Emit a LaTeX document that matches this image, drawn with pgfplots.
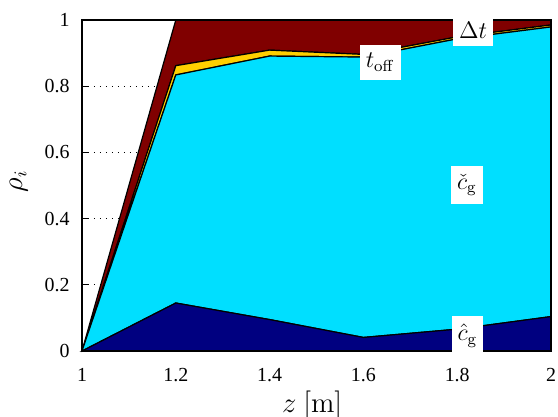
\documentclass[border=0pt]{standalone}
\usepackage[no-math]{fontspec}
\setmainfont{Liberation Serif}
\usepackage{pgfplots}
\pgfplotsset{compat=1.18}
\definecolor{cgHat}{RGB}{0,0,128}
\definecolor{cgCheck}{RGB}{0,223,255}
\definecolor{toff}{RGB}{255,207,0}
\definecolor{dtred}{RGB}{128,0,0}
\begin{document}
\begin{tikzpicture}
\begin{axis}[
  scale only axis, width=234.5bp, height=165.5bp,
  xmin=1, xmax=2, ymin=0, ymax=1,
  xtick={1,1.2,1.4,1.6,1.8,2}, ytick={0,0.2,0.4,0.6,0.8,1},
  stack plots=y, clip=false,
  axis line style={line width=0.6pt},
  ymajorgrids, grid style={black, dash pattern=on 0.4pt off 2.6pt, line width=0.4pt},
  tick style={black, line width=0.4pt}, major tick length=3bp,
  /pgf/number format/assume math mode=true,
  ticklabel style={font=\fontsize{10}{12}\selectfont},
  yticklabel style={xshift=-2.7bp},
  xticklabel style={yshift=-5bp},
  xlabel={$z~[\mathrm{m}]$}, ylabel={$\rho_i$},
  label style={font=\fontsize{13.5}{16}\selectfont},
  xlabel style={at={(axis description cs:0.491,-0.163)}, anchor=center},
  ylabel style={at={(axis description cs:-0.135,0.512)}, anchor=center},
  every axis plot/.append style={draw=black, line width=0.6pt},
]
\addplot[fill=cgHat] coordinates {(1,0) (1.2,0.145) (1.4,0.095) (1.6,0.041) (1.8,0.066) (2,0.104)} \closedcycle;
\addplot[fill=cgCheck] coordinates {(1,0) (1.2,0.689) (1.4,0.796) (1.6,0.847) (1.8,0.877) (2,0.875)} \closedcycle;
\addplot[fill=toff] coordinates {(1,0) (1.2,0.028) (1.4,0.018) (1.6,0.008) (1.8,0.006) (2,0.006)} \closedcycle;
\addplot[fill=dtred] coordinates {(1,0) (1.2,0.138) (1.4,0.091) (1.6,0.104) (1.8,0.051) (2,0.015)} \closedcycle;
\coordinate (sw) at (rel axis cs:0,0);
\coordinate (ne) at (rel axis cs:1,1);
\coordinate (Ldt) at (axis cs:1.834,0.970);
\coordinate (Ltoff) at (axis cs:1.636,0.872);
\coordinate (Lcc) at (axis cs:1.821,0.501);
\coordinate (Lch) at (axis cs:1.822,0.046);
\end{axis}
\draw[line width=0.6pt] (sw) rectangle (ne);
\begin{scope}[every node/.style={fill=white, inner xsep=3bp, inner ysep=4bp, font=\fontsize{12}{14}\selectfont}]
\node at (Ldt) {$\Delta t$};
\node at (Ltoff) {$t_{\mathrm{off}}$};
\node at (Lcc) {$\check{c}_{\mathrm{g}}$};
\node at (Lch) {$\hat{c}_{\mathrm{g}}$};
\end{scope}
\pgfresetboundingbox
\path ([shift={(-41bp,-33bp)}]sw) rectangle ([shift={(3.5bp,10bp)}]ne);
\end{tikzpicture}
\end{document}
